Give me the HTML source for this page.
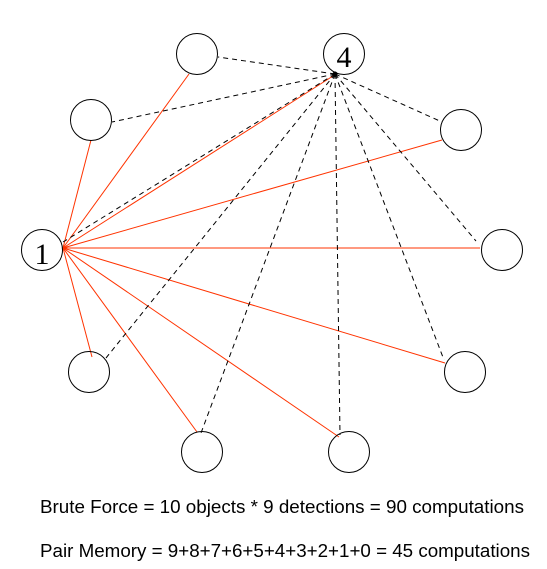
<!DOCTYPE html>
<html><head><style>body{margin:0;background:#fff}</style></head><body>
<svg width="547" height="569" xmlns="http://www.w3.org/2000/svg" style="display:block">
<g stroke="#ff3300" stroke-width="1" fill="none">
<line x1="63" y1="248" x2="189" y2="74"/>
<line x1="63" y1="248" x2="91" y2="140"/>
<line x1="63" y1="248" x2="333" y2="76"/>
<line x1="63" y1="248" x2="442" y2="140"/>
<line x1="63" y1="248" x2="480" y2="248"/>
<line x1="63" y1="248" x2="445" y2="363"/>
<line x1="63" y1="248" x2="339" y2="437"/>
<line x1="63" y1="248" x2="197" y2="432"/>
<line x1="63" y1="248" x2="92" y2="357"/>
</g>
<g stroke="#000" stroke-width="1" stroke-dasharray="5,4" fill="none">
<line x1="335" y1="74" x2="218" y2="57"/>
<line x1="335" y1="74" x2="112" y2="122"/>
<line x1="335" y1="74" x2="63" y2="242"/>
<line x1="335" y1="74" x2="106" y2="358"/>
<line x1="335" y1="74" x2="201" y2="433"/>
<line x1="335" y1="74" x2="340" y2="435"/>
<line x1="335" y1="74" x2="444" y2="360"/>
<line x1="335" y1="74" x2="442" y2="122"/>
<line x1="335" y1="74" x2="476" y2="241"/>
</g>
<circle cx="335" cy="74" r="2.5" fill="#000"/>
<g stroke="#000" stroke-width="1" fill="none">
<circle cx="197" cy="54" r="20.5"/>
<circle cx="344" cy="54" r="20.5"/>
<circle cx="91" cy="120" r="20.5"/>
<circle cx="461" cy="130" r="20.5"/>
<circle cx="42" cy="250" r="20.5"/>
<circle cx="502" cy="250" r="20.5"/>
<circle cx="89" cy="372" r="20.5"/>
<circle cx="465" cy="372" r="20.5"/>
<circle cx="202" cy="452" r="20.5"/>
<circle cx="349" cy="452" r="20.5"/>
</g>
<text x="344" y="67" font-family="Liberation Serif, serif" font-size="30" text-anchor="middle">4</text>
<text x="42" y="264" font-family="Liberation Serif, serif" font-size="30" text-anchor="middle">1</text>
<text x="40" y="513" font-family="Liberation Sans, sans-serif" font-size="18" textLength="484" lengthAdjust="spacingAndGlyphs">Brute Force = 10 objects * 9 detections = 90 computations</text>
<text x="40" y="557" font-family="Liberation Sans, sans-serif" font-size="18" textLength="490" lengthAdjust="spacingAndGlyphs">Pair Memory = 9+8+7+6+5+4+3+2+1+0 = 45 computations</text>
</svg>
</body></html>
